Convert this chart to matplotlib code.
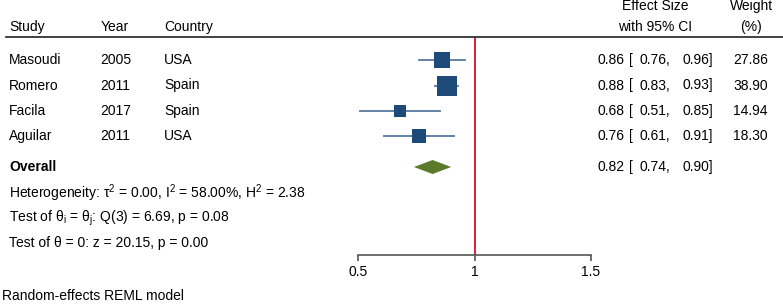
import matplotlib
matplotlib.use('Agg')
import numpy as np
from matplotlib import pyplot as plt
from matplotlib.transforms import blended_transform_factory

plt.rcParams['font.family'] = ['Liberation Sans', 'DejaVu Sans']
plt.rcParams['mathtext.fontset'] = 'custom'
plt.rcParams['mathtext.rm'] = 'Liberation Sans'
plt.rcParams['mathtext.it'] = 'Liberation Sans:italic'

# study data
studies = ['Masoudi', 'Romero', 'Facila', 'Aguilar']
years = [2005, 2011, 2017, 2011]
countries = ['USA', 'Spain', 'Spain', 'USA']
effect = [0.86, 0.88, 0.68, 0.76]
ci_low = [0.76, 0.83, 0.51, 0.61]
ci_high = [0.96, 0.93, 0.85, 0.91]
weights = [27.86, 38.90, 14.94, 18.30]

overall_es = 0.82
overall_low = 0.74
overall_high = 0.90

xticks = [0.5, 1, 1.5]
xtick_labels = ['0.5', '1', '1.5']

W, H = 783, 307
fig = plt.figure(figsize=(W / 100, H / 100), dpi=100)
ax = fig.add_axes([0, 0, 1, 1])

# 0.5 sits at pixel 358, 1.5 at pixel 591
px_per_unit = (591 - 358) / 1.0
ax.set_xlim(0.5 - 358 / px_per_unit, 0.5 + (W - 358) / px_per_unit)
ax.set_ylim(H, 0)

fs = 10
navy = '#1d4a78'
line_blue = '#5878a0'
green = '#5b7a2b'
red = '#d8213b'

tr = blended_transform_factory(ax.transAxes, ax.transData)
def px(x):
    return x / W

def txt(x, y, s, ha='left', **kw):
    ax.text(px(x), y, s, transform=tr, va='center', ha=ha, fontsize=fs, **kw)

def ci_text(y, e, lo, hi):
    txt(598, y, f'{e:.2f}')
    txt(629.5, y, '[')
    txt(640, y, f'{lo:.2f},')
    txt(713, y, f'{hi:.2f}]', ha='right')

row_y = [60, 85.5, 111, 136]
y_overall = 167
y_header = 37
y_axis = 255

# header
txt(9, 27, 'Study')
txt(100.5, 27, 'Year')
txt(164, 27, 'Country')
txt(655, 6, 'Effect Size', ha='center')
txt(655, 27, 'with 95% CI', ha='center')
txt(751, 6, 'Weight', ha='center')
txt(751, 27, '(%)', ha='center')
ax.axhline(y_header, xmin=px(6), xmax=1, color='#333333', lw=1.3)

# reference line at 1
ax.vlines(1, y_header, y_axis, color=red, lw=1.4, zorder=1)

for i in range(len(studies)):
    y = row_y[i]
    txt(9, y, studies[i])
    txt(100.5, y, str(years[i]))
    txt(164, y, countries[i])
    ax.plot([ci_low[i], ci_high[i]], [y, y], color=line_blue, lw=1.3, zorder=2)
    ax.plot(effect[i], y, marker='s', color=navy, ms=2.25 * np.sqrt(weights[i]),
            mew=0, zorder=3)
    ci_text(y, effect[i], ci_low[i], ci_high[i])
    txt(768, y, f'{weights[i]:.2f}', ha='right')

# overall
txt(9, y_overall, 'Overall', fontweight='bold')
ax.fill([overall_low, overall_es, overall_high, overall_es],
        [y_overall, y_overall - 7, y_overall, y_overall + 7], color=green, lw=0, zorder=3)
ci_text(y_overall, overall_es, overall_low, overall_high)

txt(9, 193, r'Heterogeneity: τ$^\mathrm{2}$ = 0.00, I$^\mathrm{2}$ = 58.00%, H$^\mathrm{2}$ = 2.38')
txt(9, 218, r'Test of θ$_\mathrm{i}$ = θ$_\mathrm{j}$: Q(3) = 6.69, p = 0.08')
txt(9, 243, 'Test of θ = 0: z = 20.15, p = 0.00')
txt(2, 296, 'Random-effects REML model')

# x axis
for s in ['top', 'left', 'right']:
    ax.spines[s].set_visible(False)
ax.spines['bottom'].set_position(('data', y_axis))
ax.spines['bottom'].set_bounds(xticks[0], xticks[-1])
ax.spines['bottom'].set_color('#555555')
ax.spines['bottom'].set_linewidth(1.2)
ax.set_xticks(xticks)
ax.set_xticklabels(xtick_labels, fontsize=fs)
ax.tick_params(axis='x', direction='out', length=4, width=1.2, color='#555555', pad=3)
ax.set_yticks([])

fig.savefig('out.png', dpi=100)
